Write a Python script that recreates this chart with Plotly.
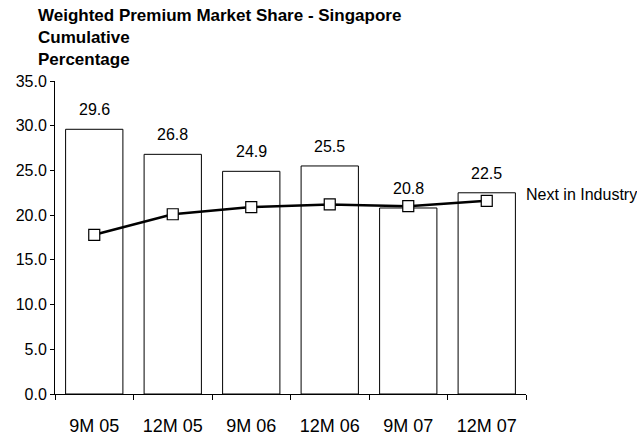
import plotly.graph_objects as go

periods = ["9M 05", "12M 05", "9M 06", "12M 06", "9M 07", "12M 07"]
market_share = [29.6, 26.8, 24.9, 25.5, 20.8, 22.5]
next_in_industry = [17.8, 20.1, 20.9, 21.2, 21.0, 21.6]
y_ticks = [0, 5, 10, 15, 20, 25, 30, 35]

FONT = "Liberation Sans, Arial, sans-serif"

fig = go.Figure()

fig.add_trace(go.Bar(
    x=periods,
    y=market_share,
    marker=dict(color="white", line=dict(color="black", width=1)),
    showlegend=False,
    hoverinfo="skip",
))

fig.add_trace(go.Scatter(
    x=periods,
    y=next_in_industry,
    mode="lines+markers",
    line=dict(color="black", width=2.5),
    marker=dict(symbol="square", size=11, color="white",
                line=dict(color="black", width=1.2)),
    showlegend=False,
))

# value labels above each bar
for p, v in zip(periods, market_share):
    fig.add_annotation(x=p, y=v, text=f"{v:.1f}", showarrow=False,
                       yanchor="bottom", yshift=9,
                       font=dict(family=FONT, size=16, color="black"))

# series label to the right of the line
fig.add_annotation(xref="paper", yref="y", x=1.0, y=next_in_industry[-1],
                   xshift=-2, yshift=6, text="Next in Industry", showarrow=False,
                   xanchor="left", yanchor="middle",
                   font=dict(family=FONT, size=16, color="black"))

# chart heading, three lines
heading = ["Weighted Premium Market Share - Singapore", "Cumulative", "Percentage"]
for i, line in enumerate(heading):
    fig.add_annotation(xref="paper", yref="paper", x=0, xshift=-19,
                       y=1, yshift=66 - 22 * i,
                       text=f"<b>{line}</b>", showarrow=False,
                       xanchor="left", yanchor="middle",
                       font=dict(family=FONT, size=17, color="black"))

fig.update_layout(
    width=637, height=436,
    margin=dict(l=55, r=111, t=81, b=42),
    plot_bgcolor="white", paper_bgcolor="white",
    bargap=0.27,
    font=dict(family=FONT, color="black"),
)

fig.update_xaxes(
    showline=True, linecolor="black", linewidth=1,
    ticks="outside", tickson="boundaries", ticklen=5, tickcolor="black",
    tickfont=dict(family=FONT, size=18, color="black"),
    ticklabelstandoff=15, automargin=False,
    showgrid=False, zeroline=False,
)

fig.update_yaxes(
    range=[0, 35], tickvals=y_ticks, tickformat=".1f",
    showline=True, linecolor="black", linewidth=1,
    ticks="outside", ticklen=4, tickcolor="black",
    tickfont=dict(family=FONT, size=16, color="black"),
    automargin=False,
    showgrid=False, zeroline=False,
)

fig.write_html("out.html")
